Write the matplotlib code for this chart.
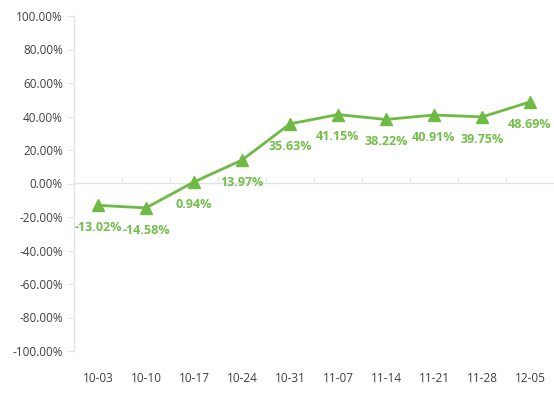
import matplotlib
matplotlib.use("Agg")
import matplotlib.pyplot as plt
from matplotlib.ticker import FuncFormatter, FixedLocator, NullFormatter

plt.rcParams['font.family'] = ['Open Sans', 'DejaVu Sans']

categories = ["10-03", "10-10", "10-17", "10-24", "10-31", "11-07", "11-14", "11-21", "11-28", "12-05"]
values = [-13.02, -14.58, 0.94, 13.97, 35.63, 41.15, 38.22, 40.91, 39.75, 48.69]
yticks = [-100, -80, -60, -40, -20, 0, 20, 40, 60, 80, 100]

green = "#6FBA45"
label_green = "#72BE4A"
grid_c = "#E3E3E3"
text_c = "#404040"

fig = plt.figure(figsize=(5.54, 3.93), dpi=100)
ax = fig.add_axes([74/554, 1-351/393, 1-74/554, (351-16)/393])

x = list(range(len(categories)))
ax.plot(x, values, color=green, linewidth=2, marker="^", markersize=9, zorder=3)
for xi, v in zip(x, values):
    ax.annotate(f"{v:.2f}%", (xi, v), xytext=(0, -16), textcoords="offset points",
                ha="center", va="center", fontsize=9, fontweight="bold", color=label_green, zorder=4)

ax.set_xlim(-0.5, len(categories) - 0.5)
ax.set_ylim(-100, 100)
ax.set_yticks(yticks)
ax.yaxis.set_major_formatter(FuncFormatter(lambda v, p: f"{v:.2f}%"))
ax.tick_params(axis="y", length=4, color=grid_c, labelsize=8.5, labelcolor=text_c, pad=4)

ax.set_xticks(x)
ax.set_xticklabels(categories)
ax.tick_params(axis="x", length=0, labelsize=8.5, labelcolor=text_c, pad=15)

for s in ["top", "right", "bottom"]:
    ax.spines[s].set_visible(False)
ax.spines["left"].set_color(grid_c)
ax.spines["left"].set_linewidth(1)

sec = ax.secondary_xaxis(0.5)
for s in sec.spines.values():
    s.set_color(grid_c)
    s.set_linewidth(1)
sec.xaxis.set_major_locator(FixedLocator([i + 0.5 for i in range(len(categories) - 1)]))
sec.xaxis.set_major_formatter(NullFormatter())
sec.tick_params(axis="x", length=4, color=grid_c, direction="out")
sec.set_zorder(0)

fig.savefig("out.png", dpi=100)
